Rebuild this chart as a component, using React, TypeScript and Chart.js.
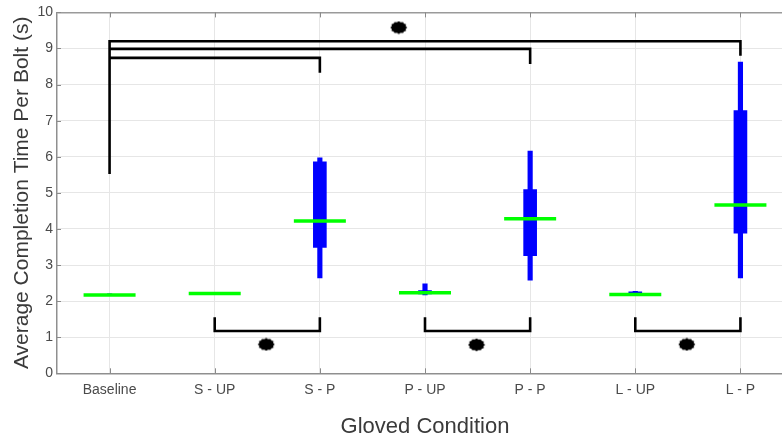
import React, { useEffect, useRef } from "react";
import { Chart, registerables } from "chart.js";

Chart.register(...registerables);

// Gloved conditions along the x axis
const categories = ["Baseline", "S - UP", "S - P", "P - UP", "P - P", "L - UP", "L - P"];

// Box-plot statistics per condition (seconds per bolt)
const whiskerLow = [2.15, 2.19, 2.64, 2.17, 2.58, 2.16, 2.64];
const boxLow = [2.16, 2.2, 3.49, 2.2, 3.26, 2.19, 3.88];
const medians = [2.17, 2.21, 4.22, 2.23, 4.28, 2.18, 4.66];
const boxHigh = [2.19, 2.23, 5.86, 2.29, 5.09, 2.26, 7.28];
const whiskerHigh = [2.2, 2.24, 5.97, 2.48, 6.16, 2.27, 8.62];

// Significance brackets against Baseline (x = condition position, y = seconds)
const bracketBaseToLP = [[1, 5.52], [1, 9.2], [7, 9.2], [7, 8.8]];
const bracketBaseToPP = [[1, 8.99], [5, 8.99], [5, 8.57]];
const bracketBaseToSP = [[1, 8.74], [3, 8.74], [3, 8.33]];

// Significance brackets between unpadded / padded pairs
const pairBrackets = [[2, 3], [4, 5], [6, 7]];
const pairBracketTop = 1.55;
const pairBracketBase = 1.17;

// Significance markers
const markerX = [3.75, 2.49, 4.49, 6.49];
const markerY = [9.58, 0.8, 0.79, 0.8];

const yTicks = [0, 1, 2, 3, 4, 5, 6, 7, 8, 9, 10];

function toPoints(list: number[][]) {
  return list.map(([x, y]) => ({ x, y }));
}

function makeMarker(): HTMLCanvasElement {
  const c = document.createElement("canvas");
  c.width = 18;
  c.height = 14;
  const g = c.getContext("2d")!;
  g.fillStyle = "#000";
  g.beginPath();
  const n = 24;
  for (let i = 0; i <= n; i++) {
    const a = (i / n) * Math.PI * 2;
    const k = i % 2 === 0 ? 1 : 0.86;
    const px = 9 + Math.cos(a) * 8.4 * k;
    const py = 7 + Math.sin(a) * 6.4 * k;
    if (i === 0) g.moveTo(px, py);
    else g.lineTo(px, py);
  }
  g.closePath();
  g.fill();
  return c;
}

// Inward-facing tick marks on the axes
const innerTicks = {
  id: "innerTicks",
  afterDraw(chart: any) {
    const { ctx, chartArea } = chart;
    const xs = chart.scales.x;
    const ys = chart.scales.y;
    ctx.save();
    ctx.strokeStyle = "#8a8a8a";
    ctx.lineWidth = 1;
    categories.forEach((_, i) => {
      const px = Math.round(xs.getPixelForValue(i + 1)) + 0.5;
      ctx.beginPath();
      ctx.moveTo(px, chartArea.bottom);
      ctx.lineTo(px, chartArea.bottom - 5);
      ctx.moveTo(px, chartArea.top);
      ctx.lineTo(px, chartArea.top + 5);
      ctx.stroke();
    });
    yTicks.forEach((v) => {
      const py = Math.round(ys.getPixelForValue(v)) + 0.5;
      ctx.beginPath();
      ctx.moveTo(chartArea.left, py);
      ctx.lineTo(chartArea.left + 4, py);
      ctx.stroke();
    });
    ctx.restore();
  },
};

export default function App() {
  const canvasRef = useRef<HTMLCanvasElement | null>(null);

  useEffect(() => {
    if (!canvasRef.current) return;
    const marker = makeMarker();
    const black = "#000000";
    const lineBase = {
      type: "line" as const,
      borderColor: black,
      borderWidth: 2.6,
      pointRadius: 0,
      tension: 0,
      fill: false,
      borderJoinStyle: "miter" as const,
      borderCapStyle: "butt" as const,
      order: 2,
    };

    const pairDatasets = pairBrackets.map(([a, b]) => ({
      ...lineBase,
      data: [
        { x: a, y: pairBracketTop },
        { x: a, y: pairBracketBase },
        { x: b, y: pairBracketBase },
        { x: b, y: pairBracketTop },
      ],
    }));

    const chart = new Chart(canvasRef.current, {
      type: "bar",
      data: {
        datasets: [
          {
            type: "line",
            data: medians.map((m, i) => ({ x: i + 1, y: m })),
            showLine: false,
            pointStyle: "line",
            pointRadius: 26,
            pointBorderWidth: 3.5,
            pointBorderColor: "#00ff00",
            pointBackgroundColor: "#00ff00",
            order: 0,
          } as any,
          {
            type: "line",
            data: markerX.map((x, i) => ({ x, y: markerY[i] })),
            showLine: false,
            pointStyle: marker,
            pointRadius: 8,
            order: 1,
          } as any,
          { ...lineBase, data: toPoints(bracketBaseToLP) } as any,
          { ...lineBase, data: toPoints(bracketBaseToPP) } as any,
          { ...lineBase, data: toPoints(bracketBaseToSP) } as any,
          ...(pairDatasets as any[]),
          {
            type: "bar",
            data: boxLow.map((lo, i) => ({ x: i + 1, y: [lo, boxHigh[i]] })),
            backgroundColor: "#0000ff",
            borderWidth: 0,
            barThickness: 13,
            grouped: false,
            order: 3,
          } as any,
          {
            type: "bar",
            data: whiskerLow.map((lo, i) => ({ x: i + 1, y: [lo, whiskerHigh[i]] })),
            backgroundColor: "#0000ff",
            borderWidth: 0,
            barThickness: 4.5,
            grouped: false,
            order: 4,
          } as any,
        ],
      },
      options: {
        animation: false,
        responsive: false,
        devicePixelRatio: 1,
        layout: { autoPadding: false, padding: { top: 9.5, left: 0, right: 0, bottom: 0 } },
        plugins: {
          legend: { display: false },
          tooltip: { enabled: false },
        },
        scales: {
          x: {
            type: "linear",
            min: 0.5,
            max: 7.5,
            offset: false,
            afterBuildTicks: (scale: any) => {
              scale.ticks = categories.map((_, i) => ({ value: i + 1 }));
            },
            afterFit: (scale: any) => {
              scale.height = 66.7;
              scale.paddingLeft = 0;
              scale.paddingRight = 0;
            },
            ticks: {
              callback: (v: any) => categories[Math.round(Number(v)) - 1] ?? "",
              color: "#4a4a4a",
              font: { family: "Liberation Sans, Arial, sans-serif", size: 14 },
              padding: 8,
              maxRotation: 0,
              autoSkip: false,
            },
            grid: { color: "#e6e6e6", lineWidth: 1, drawTicks: false, offset: false },
            border: { color: "#8f8f8f", width: 1.5 },
            title: {
              display: true,
              text: "Gloved Condition",
              color: "#3a3a3a",
              font: { family: "Liberation Sans, Arial, sans-serif", size: 22 },
              padding: { top: 0, bottom: 0 },
            },
          },
          y: {
            type: "linear",
            min: 0,
            max: 10,
            afterBuildTicks: (scale: any) => {
              scale.ticks = yTicks.map((v) => ({ value: v }));
            },
            afterFit: (scale: any) => {
              scale.width = 57;
            },
            ticks: {
              color: "#4a4a4a",
              font: { family: "Liberation Sans, Arial, sans-serif", size: 14 },
              padding: 4,
            },
            grid: {
              color: (c: any) => (c.tick && c.tick.value === 10 ? "#9a9a9a" : "#e6e6e6"),
              lineWidth: (c: any) => (c.tick && c.tick.value === 10 ? 1.5 : 1),
              drawTicks: false,
            },
            border: { color: "#8f8f8f", width: 1.5 },
            title: {
              display: true,
              text: "Average Completion Time Per Bolt (s)",
              color: "#3a3a3a",
              font: { family: "Liberation Sans, Arial, sans-serif", size: 21 },
              padding: { top: 10, bottom: 0 },
            },
          },
        },
      } as any,
      plugins: [innerTicks],
    });
    return () => chart.destroy();
  }, []);

  return (
    <div
      style={{
        position: "fixed",
        left: 0,
        top: 0,
        width: 782,
        height: 440,
        overflow: "hidden",
        background: "#ffffff",
      }}
    >
      <canvas ref={canvasRef} width={793} height={440} style={{ display: "block" }} />
    </div>
  );
}
